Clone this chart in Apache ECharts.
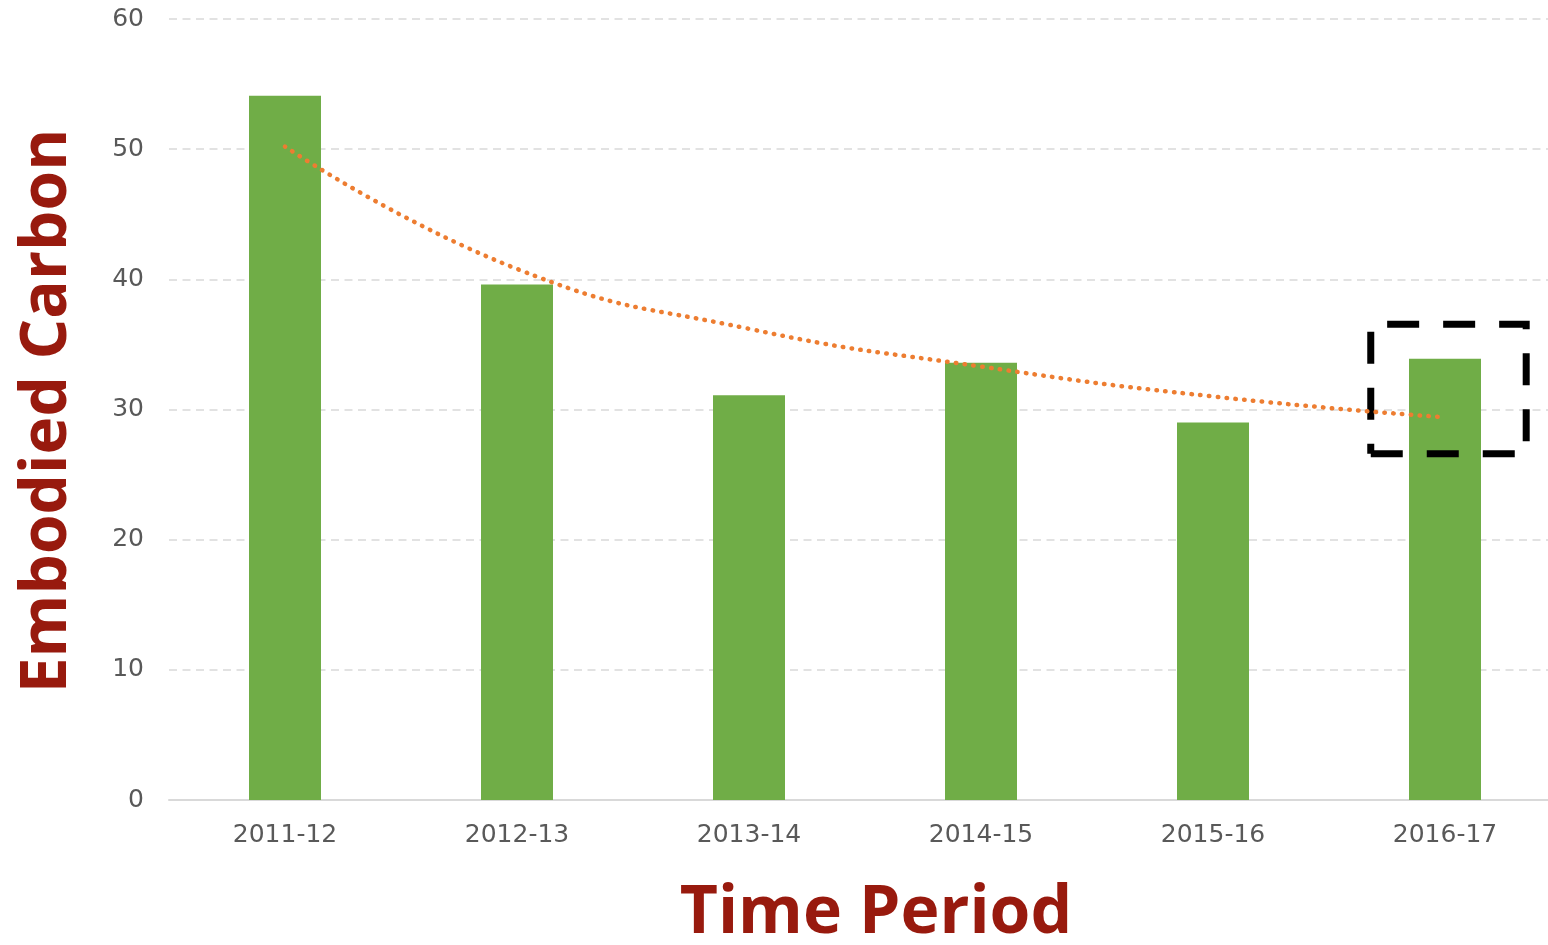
<!DOCTYPE html>
<html>
<head>
<meta charset="utf-8">
<title>Embodied Carbon</title>
<script src="https://cdn.jsdelivr.net/npm/echarts@6/dist/echarts.min.js"></script>
<style>
  html, body { margin: 0; padding: 0; background: #fff; overflow: hidden; }
  /* plot area runs a little past the right edge of the window, as in the original */
  #chart { width: 1561px; height: 945px; }
</style>
</head>
<body>
<div id="chart"></div>
<script>
const periods = ['2011-12', '2012-13', '2013-14', '2014-15', '2015-16', '2016-17']
const carbon = [54.1, 39.6, 31.1, 33.6, 29.0, 33.9]
// dotted trend line
const trend = [50.2, 40.8, 36.2, 33.3, 31.0, 29.4]
const yTicks = { min: 0, max: 60, step: 10 }
// highlight box round the last bar: [x from, x to] on a 0..5 index scale, [y top, y bottom]
const boxX = [4.68, 5.35]
const boxY = [36.55, 26.6]

const labelFont = { fontFamily: 'DejaVu Sans', fontSize: 25, color: '#595959' }
const titleStyle = { fontFamily: 'Open Sans', fontWeight: 'bold', fill: '#981a0e' }

const chart = echarts.init(document.getElementById('chart'))

const option = {
  animation: false,
  grid: { left: 169, right: 0, top: 19, bottom: 145 },
  xAxis: [
    {
      type: 'category',
      data: periods,
      axisLine: { lineStyle: { color: '#d9d9d9', width: 2 } },
      axisTick: { show: false },
      axisLabel: Object.assign({ margin: 23 }, labelFont)
    },
    {
      // hidden helper axis for the box
      type: 'value',
      min: -0.5,
      max: 5.5,
      show: false
    }
  ],
  yAxis: {
    type: 'value',
    min: yTicks.min,
    max: yTicks.max,
    interval: yTicks.step,
    axisLine: { show: false },
    axisTick: { show: false },
    axisLabel: Object.assign({ margin: 25 }, labelFont),
    splitLine: { lineStyle: { color: '#d9d9d9', width: 1.5, type: [8, 5.5] } }
  },
  series: [
    {
      type: 'bar',
      data: carbon,
      barWidth: 72,
      itemStyle: { color: '#70ad47' },
      z: 2
    },
    {
      type: 'custom',
      xAxisIndex: 1,
      data: [[boxX[0], boxY[0], boxX[1], boxY[1]]],
      renderItem: function (params, api) {
        const tl = api.coord([api.value(0), api.value(1)])
        const br = api.coord([api.value(2), api.value(3)])
        // drawn from bottom-left, anticlockwise on screen, so the dashes fall like the original
        const pts = [
          [tl[0], br[1]], [br[0], br[1]], [br[0], tl[1]], [tl[0], tl[1]], [tl[0], br[1]]
        ]
        return {
          type: 'polyline',
          shape: { points: pts },
          style: {
            fill: null,
            stroke: '#000',
            lineWidth: 7,
            lineJoin: 'miter',
            lineDash: [32, 24]
          }
        }
      },
      silent: true,
      z: 3
    },
    {
      type: 'line',
      data: trend,
      smooth: true,
      symbol: 'none',
      lineStyle: { color: '#ed7d31', width: 4.5, type: [0.5, 8.3], cap: 'round' },
      z: 4
    }
  ],
  graphic: [
    {
      type: 'text',
      x: 876,
      y: 914,
      style: Object.assign({ text: 'Time Period', align: 'center', verticalAlign: 'middle', fontSize: 66 }, titleStyle)
    },
    {
      type: 'text',
      x: 48,
      y: 411,
      rotation: Math.PI / 2,
      style: Object.assign({ text: 'Embodied Carbon', align: 'center', verticalAlign: 'middle', fontSize: 64 }, titleStyle)
    }
  ]
}

chart.setOption(option)
</script>
</body>
</html>
